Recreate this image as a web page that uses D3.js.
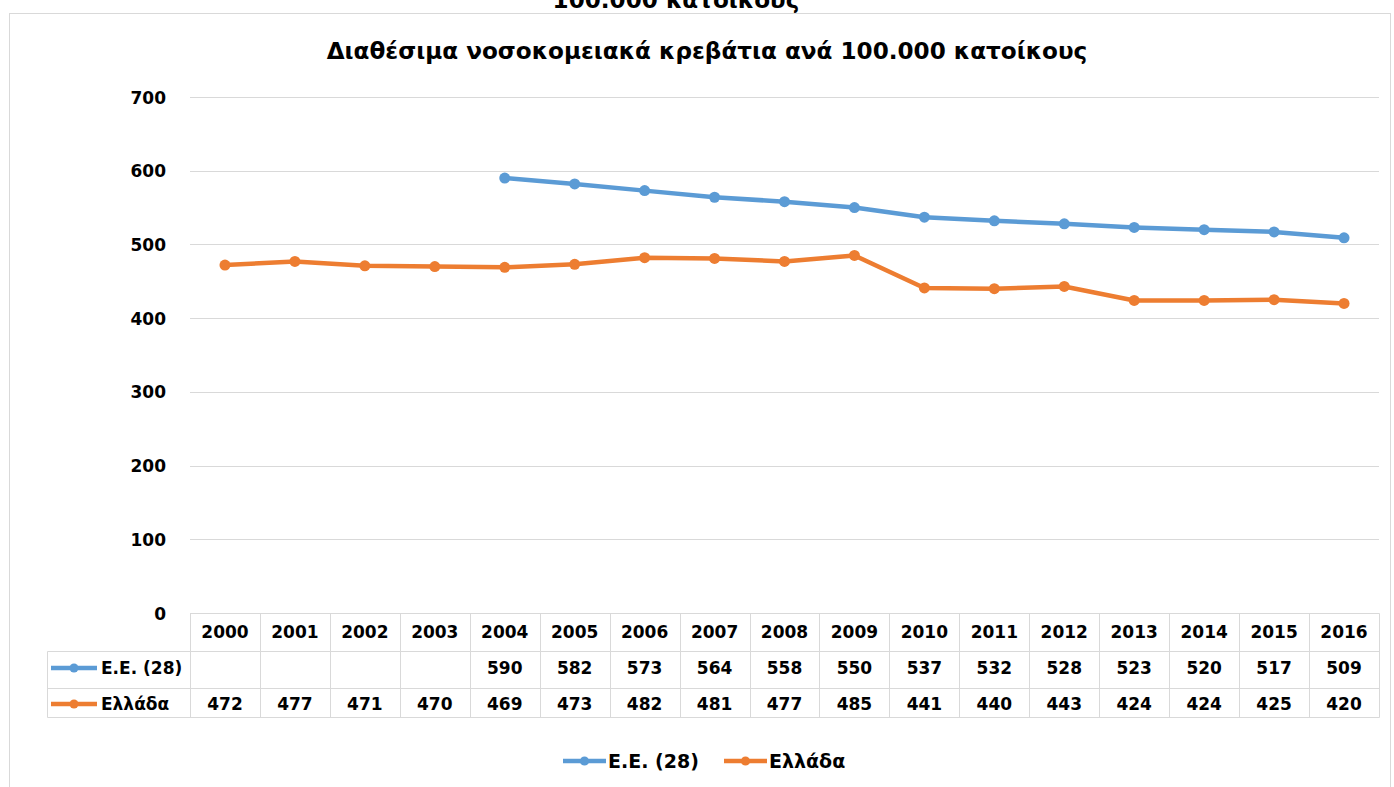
<!DOCTYPE html>
<html><head><meta charset="utf-8">
<script src="https://cdn.jsdelivr.net/npm/d3@7"></script>
<style>
html,body{margin:0;padding:0;background:#fff;}
svg{display:block;}
text{font-family:"DejaVu Sans",sans-serif;font-weight:700;fill:#000;}
</style></head><body>
<svg id="c" width="1394" height="787"></svg>
<script>
const years = ["2000","2001","2002","2003","2004","2005","2006","2007","2008","2009","2010","2011","2012","2013","2014","2015","2016"];
const euValues = [null,null,null,null,590,582,573,564,558,550,537,532,528,523,520,517,509];
const grValues = [472,477,471,470,469,473,482,481,477,485,441,440,443,424,424,425,420];
const seriesNames = ["Ε.Ε. (28)","Ελλάδα"];
const seriesColors = ["#5B9BD5","#ED7D31"];
const yTicks = [0,100,200,300,400,500,600,700];
const titleText = "Διαθέσιμα νοσοκομειακά κρεβάτια ανά 100.000 κατοίκους";
const cutText = "100.000 κατοίκους";

const series = [
  {name: seriesNames[0], color: seriesColors[0], values: euValues},
  {name: seriesNames[1], color: seriesColors[1], values: grValues}
];

const svg = d3.select("#c");
const grid = "#d9d9d9";

// cut off text at top (partially outside the picture, as in the original)
const ct = svg.append("text").attr("x",676).attr("y",8).attr("text-anchor","middle")
  .style("font-size","20px").text(cutText);

// chart border
svg.append("rect").attr("x",9.5).attr("y",13.5).attr("width",1381).attr("height",800)
  .attr("fill","#fff").attr("stroke","#d9d9d9").attr("stroke-width",1);

// title
const tt = svg.append("text").attr("x",707).attr("y",59).attr("text-anchor","middle")
  .style("font-size","20px").text(titleText);
const tw = tt.node().getComputedTextLength();
const fs = 20 * 761 / tw;
tt.style("font-size", fs.toFixed(2) + "px");
ct.style("font-size", fs.toFixed(2) + "px");

const x = d3.scaleBand().domain(years).range([190,1379]);
const y = d3.scaleLinear().domain([0,700]).range([613,97]);

// gridlines
svg.append("g").selectAll("line").data(yTicks.filter(d=>d>0)).join("line")
  .attr("x1",190).attr("x2",1379)
  .attr("y1",d=>Math.round(y(d))+0.5).attr("y2",d=>Math.round(y(d))+0.5)
  .attr("stroke",grid).attr("stroke-width",1);

// y axis labels
const yAxis = d3.axisLeft(y).tickValues(yTicks).tickSize(0).tickPadding(0);
const ya = svg.append("g").attr("transform","translate(166,0)").call(yAxis);
ya.select(".domain").remove();
ya.selectAll("text").style("font-size","17px").style("font-family","'DejaVu Sans',sans-serif")
  .style("font-weight","700").attr("fill","#000").attr("dy","0.36em");

// lines
const line = d3.line().defined(d=>d.v!=null).x(d=>x(d.year)+x.bandwidth()/2).y(d=>y(d.v));
series.forEach(s=>{
  const pts = years.map((yr,i)=>({year:yr,v:s.values[i]}));
  svg.append("path").datum(pts).attr("d",line).attr("fill","none")
    .attr("stroke",s.color).attr("stroke-width",4.5).attr("stroke-linejoin","round").attr("stroke-linecap","round");
  svg.append("g").selectAll("circle").data(pts.filter(d=>d.v!=null)).join("circle")
    .attr("cx",d=>x(d.year)+x.bandwidth()/2).attr("cy",d=>y(d.v)).attr("r",5.5).attr("fill",s.color);
});

// data table
const tTop = 613.5, r1 = 651.5, r2 = 688.5, r3 = 717.5, tLeft = 47.5, tRight = 1379.5;
const tg = svg.append("g");
tg.append("line").attr("x1",190).attr("x2",tRight).attr("y1",tTop).attr("y2",tTop).attr("stroke",grid);
[r1,r2,r3].forEach(yy=>tg.append("line").attr("x1",tLeft).attr("x2",tRight).attr("y1",yy).attr("y2",yy).attr("stroke",grid));
tg.append("line").attr("x1",tLeft).attr("x2",tLeft).attr("y1",r1).attr("y2",r3).attr("stroke",grid);
const bounds = years.map(yr=>x(yr)).concat([x.range()[1]]);
tg.selectAll("line.v").data(bounds).join("line").attr("class","v")
  .attr("x1",d=>Math.round(d)+0.5).attr("x2",d=>Math.round(d)+0.5).attr("y1",tTop).attr("y2",r3).attr("stroke",grid);

tg.selectAll("text.yr").data(years).join("text").attr("class","yr")
  .attr("x",d=>x(d)+x.bandwidth()/2).attr("y",638).attr("text-anchor","middle")
  .style("font-size","17px").text(d=>d);
const rowY = [674, 710];
series.forEach((s,si)=>{
  tg.selectAll("text.v"+si).data(years.map((yr,i)=>({yr,v:s.values[i]})).filter(d=>d.v!=null))
    .join("text").attr("class","v"+si)
    .attr("x",d=>x(d.yr)+x.bandwidth()/2).attr("y",rowY[si]).attr("text-anchor","middle")
    .style("font-size","17px").text(d=>d.v);
  const cy = rowY[si]-6;
  tg.append("line").attr("x1",51).attr("x2",97).attr("y1",cy).attr("y2",cy)
    .attr("stroke",s.color).attr("stroke-width",4.5);
  tg.append("circle").attr("cx",74).attr("cy",cy).attr("r",4.5).attr("fill",s.color);
  tg.append("text").attr("x",101).attr("y",rowY[si]).style("font-size","17px").text(s.name);
});

// legend
const lg = svg.append("g");
const legendItems = [{x:563, tx:608}, {x:724, tx:769}];
series.forEach((s,i)=>{
  const L = legendItems[i], cy = 761;
  lg.append("line").attr("x1",L.x).attr("x2",L.x+43).attr("y1",cy).attr("y2",cy)
    .attr("stroke",s.color).attr("stroke-width",4.5);
  lg.append("circle").attr("cx",L.x+21.5).attr("cy",cy).attr("r",4.5).attr("fill",s.color);
  lg.append("text").attr("x",L.tx).attr("y",cy+7).style("font-size","19px").text(s.name);
});
</script></body></html>
